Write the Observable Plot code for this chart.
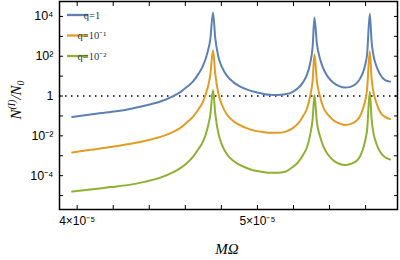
<!DOCTYPE html>
<html><head><meta charset="utf-8">
<script src="https://cdn.jsdelivr.net/npm/d3@7"></script>
<script src="https://cdn.jsdelivr.net/npm/@observablehq/plot@0.6"></script>
<style>
body{margin:0;background:#fff;}
#chart{width:400px;height:260px;}
</style></head><body><div id="chart"></div>
<script>
// M*Omega values (shared by all three series)
const omega = [3.9723e-5, 4.0737e-5, 4.1845e-5, 4.2787e-5, 4.3784e-5, 4.4615e-5, 4.5335e-5, 4.5723e-5,
  4.6111e-5, 4.6443e-5, 4.6720e-5, 4.6997e-5, 4.7219e-5, 4.7385e-5, 4.7535e-5, 4.7662e-5,
  4.7828e-5, 4.8033e-5, 4.8327e-5, 4.8659e-5, 4.9047e-5, 4.9435e-5, 4.9878e-5, 5.0321e-5,
  5.0709e-5, 5.1097e-5, 5.1540e-5, 5.1983e-5, 5.2260e-5, 5.2537e-5, 5.2759e-5, 5.2925e-5,
  5.3064e-5, 5.3163e-5, 5.3296e-5, 5.3479e-5, 5.3645e-5, 5.3922e-5, 5.4199e-5, 5.4532e-5,
  5.4864e-5, 5.5197e-5, 5.5512e-5, 5.5695e-5, 5.5861e-5, 5.6000e-5, 5.6083e-5, 5.6233e-5,
  5.6332e-5, 5.6415e-5, 5.6582e-5, 5.6803e-5, 5.7080e-5, 5.7357e-5];
// log10 of N^(I)/N0, for q = 1
const log10Q1 = [-1.05, -0.925, -0.80, -0.675, -0.475, -0.275, 0, 0.20,
  0.475, 0.75, 1.10, 1.55, 2.15, 2.85, 4.20, 2.90,
  2.00, 1.45, 1.00, 0.70, 0.475, 0.325, 0.20, 0.11,
  0.06, 0.05, 0.085, 0.225, 0.40, 0.70, 1.10, 1.65,
  2.50, 3.95, 2.65, 1.85, 1.40, 0.95, 0.675, 0.50,
  0.425, 0.475, 0.65, 0.875, 1.20, 1.65, 2.10, 4.135,
  2.75, 2.15, 1.55, 1.10, 0.80, 0.725];
// q = 10^-1
const log10Q01 = [-2.835, -2.70, -2.565, -2.425, -2.25, -2.05, -1.80, -1.60,
  -1.30, -1.025, -0.675, -0.25, 0.35, 1.05, 2.30, 1.10,
  0.15, -0.45, -0.95, -1.25, -1.475, -1.625, -1.75, -1.815,
  -1.85, -1.85, -1.80, -1.60, -1.375, -1.00, -0.60, 0,
  0.80, 2.10, 0.75, -0.05, -0.55, -0.95, -1.20, -1.375,
  -1.45, -1.40, -1.225, -1.00, -0.625, -0.15, 0.35, 2.25,
  0.90, 0.30, -0.30, -0.80, -1.05, -1.15];
// q = 10^-2
const log10Q001 = [-4.80, -4.70, -4.575, -4.475, -4.30, -4.10, -3.825, -3.625,
  -3.35, -3.025, -2.675, -2.25, -1.65, -0.95, 0.30, -0.90,
  -1.85, -2.45, -2.95, -3.25, -3.475, -3.625, -3.75, -3.815,
  -3.85, -3.85, -3.80, -3.55, -3.325, -2.95, -2.55, -1.95,
  -1.15, 0.05, -1.30, -2.05, -2.50, -2.95, -3.225, -3.40,
  -3.465, -3.40, -3.25, -3.025, -2.65, -2.15, -1.70, 0.215,
  -1.15, -1.75, -2.35, -2.80, -3.075, -3.185];

const seriesNames = ["q=1", "q=10⁻¹", "q=10⁻²"];
const seriesColors = ["#5E81B5", "#E19C24", "#8FB032"];

const xTicks = [4.0e-5, 4.2e-5, 4.4e-5, 4.6e-5, 4.8e-5, 5.0e-5, 5.2e-5, 5.4e-5, 5.6e-5];
const xLabelTicks = [4e-5, 5e-5];
const xLabelText = ["4×10⁻⁵", "5×10⁻⁵"];
const yTicks = [1e-5, 1e-4, 1e-3, 1e-2, 1e-1, 1, 1e1, 1e2, 1e3, 1e4];
const yLabelTicks = [1e-4, 1e-2, 1, 1e2, 1e4];
const yLabelText = ["10⁻⁴", "10⁻²", "1", "10²", "10⁴"];

const allSeries = [log10Q1, log10Q01, log10Q001];
const rows = [];
allSeries.forEach((logs, s) => logs.forEach((e, i) =>
  rows.push({omega: omega[i], value: Math.pow(10, e), series: seriesNames[s]})));

const tickStyle = {fill: "none", label: null, tickSize: -4, strokeWidth: 1};
const plot = Plot.plot({
  width: 400, height: 260,
  marginLeft: 59, marginRight: 3, marginTop: 1, marginBottom: 51,
  style: {fontFamily: "'Liberation Sans', Arial, sans-serif", fontSize: "12px", color: "black", background: "white"},
  x: {domain: [3.902e-5, 5.777e-5]},
  y: {type: "log", domain: [Math.pow(10, -5.7), Math.pow(10, 4.75)]},
  color: {domain: seriesNames, range: seriesColors},
  marks: [
    Plot.ruleY([1], {stroke: "black", strokeWidth: 1.5, strokeDasharray: "1.5,4.5"}),
    Plot.line(rows, {x: "omega", y: "value", z: "series", stroke: "series", strokeWidth: 2, curve: "monotone-x"}),
    Plot.frame({stroke: "black", strokeWidth: 1.5}),
    Plot.axisX(xTicks, {anchor: "bottom", ...tickStyle}),
    Plot.axisX(xTicks, {anchor: "top", ...tickStyle}),
    Plot.axisY(yTicks, {anchor: "left", ...tickStyle}),
    Plot.axisY(yTicks, {anchor: "right", ...tickStyle}),
    Plot.axisX(xLabelTicks, {anchor: "bottom", tickSize: 0, tickPadding: 7, label: null, fontSize: 12,
      tickFormat: d => xLabelText[xLabelTicks.indexOf(d)]}),
    Plot.axisY(yLabelTicks, {anchor: "left", tickSize: 0, tickPadding: 6, label: null, fontSize: 12.5,
      tickFormat: d => yLabelText[yLabelTicks.indexOf(d)]})
  ]
});
document.getElementById("chart").appendChild(plot);

// Axis titles and legend
const svg = d3.select(plot);
const serif = "'Liberation Serif', 'Times New Roman', serif";
const yl = svg.append("text")
  .attr("transform", "translate(21,100) rotate(-90)")
  .attr("text-anchor", "middle").attr("font-family", serif).attr("font-style", "italic")
  .attr("font-size", 15).attr("fill", "black");
yl.append("tspan").text("N");
yl.append("tspan").attr("dy", -6).attr("font-size", 10).text("(I)");
yl.append("tspan").attr("dy", 6).text("/N");
yl.append("tspan").attr("dy", 3).attr("font-size", 10).text("0");

svg.append("text").attr("x", 227).attr("y", 254).attr("text-anchor", "middle")
  .attr("font-family", serif).attr("font-style", "italic").attr("font-size", 15).attr("fill", "black")
  .text("MΩ");

const lg = svg.append("g");
seriesNames.forEach((name, i) => {
  const y = 15 + i * 20.5;
  lg.append("line").attr("x1", 67).attr("x2", 88).attr("y1", y).attr("y2", y)
    .attr("stroke", seriesColors[i]).attr("stroke-width", 2.3);
  lg.append("text").attr("x", 92).attr("y", y).attr("dy", "0.35em")
    .attr("font-family", serif).attr("font-size", 10.5).attr("fill", "#333").text(name);
});
</script>
</body></html>
